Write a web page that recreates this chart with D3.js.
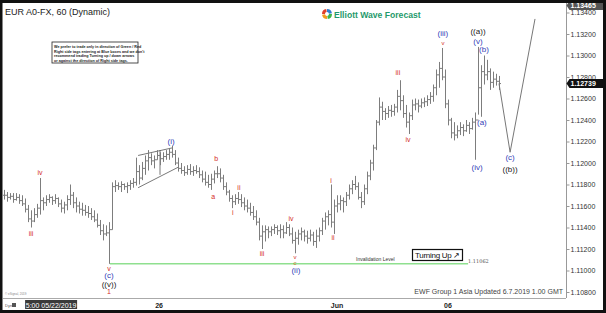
<!DOCTYPE html>
<html>
<head>
<meta charset="utf-8">
<script src="https://cdn.jsdelivr.net/npm/d3@7"></script>
<style>
body { margin: 0; background: #fff; }
svg { display: block; font-family: Arial, "Liberation Sans", sans-serif; }
</style>
</head>
<body>
<div id="chart"></div>
<script>
// 2 hour bars, EURUSD 22 May - 7 Jun 2019
var highs = [1.1175,1.1173,1.1172,1.1172,1.1172,1.1171,1.1170,1.1167,1.1161,1.1156,
 1.1158,1.1162,1.1186,1.1168,1.1170,1.1171,1.1169,1.1171,1.1168,1.1166,
 1.1164,1.1170,1.1180,1.1173,1.1168,1.1164,1.1163,1.1161,1.1160,1.1158,
 1.1156,1.1153,1.1147,1.1143,1.1142,1.1145,1.1182,1.1184,1.1182,1.1183,
 1.1181,1.1182,1.1184,1.1186,1.1205,1.1198,1.1201,1.1207,1.1212,1.1209,
 1.1207,1.1212,1.1210,1.1210,1.1212,1.1214,1.1216,1.1212,1.1205,1.1200,
 1.1197,1.1198,1.1199,1.1197,1.1198,1.1196,1.1193,1.1192,1.1189,1.1190,
 1.1193,1.1197,1.1195,1.1189,1.1182,1.1175,1.1170,1.1171,1.1173,1.1171,
 1.1168,1.1166,1.1163,1.1160,1.1156,1.1149,1.1142,1.1142,1.1141,1.1141,
 1.1143,1.1142,1.1143,1.1142,1.1145,1.1143,1.1140,1.1136,1.1138,1.1140,
 1.1138,1.1137,1.1138,1.1136,1.1138,1.1140,1.1149,1.1154,1.1156,1.1180,
 1.1166,1.1170,1.1170,1.1168,1.1173,1.1180,1.1184,1.1188,1.1182,1.1173,
 1.1180,1.1192,1.1203,1.1217,1.1240,1.1261,1.1257,1.1251,1.1253,1.1254,
 1.1255,1.1268,1.1277,1.1263,1.1254,1.1247,1.1259,1.1260,1.1259,1.1260,
 1.1261,1.1263,1.1266,1.1273,1.1287,1.1294,1.1307,1.1287,1.1259,1.1242,
 1.1238,1.1235,1.1238,1.1236,1.1240,1.1238,1.1242,1.1247,1.1308,1.1291,
 1.1300,1.1296,1.1288,1.1285,1.1283,1.1281];
var lows = [1.1166,1.1164,1.1166,1.1163,1.1165,1.1162,1.1160,1.1154,1.1145,1.1140,
 1.1145,1.1149,1.1152,1.1156,1.1160,1.1163,1.1161,1.1162,1.1159,1.1154,
 1.1153,1.1156,1.1161,1.1158,1.1154,1.1153,1.1151,1.1151,1.1149,1.1147,
 1.1145,1.1140,1.1133,1.1128,1.1132,1.11062,1.1138,1.1173,1.1175,1.1173,
 1.1175,1.1172,1.1175,1.1177,1.1179,1.1180,1.1184,1.1189,1.1193,1.1198,
 1.1195,1.1203,1.1198,1.1201,1.1203,1.1203,1.1205,1.1198,1.1192,1.1190,
 1.1188,1.1189,1.1189,1.1188,1.1190,1.1186,1.1182,1.1179,1.1177,1.1175,
 1.1181,1.1186,1.1182,1.1175,1.1170,1.1164,1.1158,1.1161,1.1162,1.1159,
 1.1156,1.1154,1.1151,1.1147,1.1142,1.1128,1.1120,1.1127,1.1130,1.1132,
 1.1134,1.1133,1.1130,1.1130,1.1134,1.1132,1.1125,1.1116,1.1124,1.1128,
 1.1127,1.1125,1.1127,1.1123,1.1121,1.1127,1.1133,1.1138,1.1142,1.1140,
 1.1134,1.1154,1.1156,1.1154,1.1160,1.1166,1.1171,1.1175,1.1166,1.1158,
 1.1161,1.1171,1.1184,1.1193,1.1212,1.1235,1.1240,1.1240,1.1242,1.1243,
 1.1244,1.1247,1.1249,1.1242,1.1233,1.1227,1.1240,1.1249,1.1247,1.1251,
 1.1252,1.1253,1.1255,1.1257,1.1263,1.1270,1.1277,1.1251,1.1235,1.1223,
 1.1221,1.1223,1.1226,1.1225,1.1229,1.1227,1.1231,1.1203,1.1245,1.1243,
 1.1273,1.1277,1.1268,1.1270,1.1272,1.1268];
var closes = [1.1170,1.1168,1.1169,1.1166,1.1168,1.1165,1.1162,1.1157,1.1148,1.1146,
 1.1152,1.1158,1.1165,1.1163,1.1166,1.1168,1.1165,1.1167,1.1162,1.1158,
 1.1161,1.1166,1.1170,1.1163,1.1160,1.1157,1.1156,1.1154,1.1153,1.1150,
 1.1147,1.1142,1.1137,1.1134,1.1135,1.1138,1.1178,1.1179,1.1178,1.1180,
 1.1178,1.1179,1.1181,1.1182,1.1192,1.1186,1.1195,1.1202,1.1205,1.1202,
 1.1203,1.1207,1.1204,1.1206,1.1208,1.1210,1.1208,1.1200,1.1195,1.1193,
 1.1191,1.1194,1.1192,1.1193,1.1192,1.1189,1.1185,1.1182,1.1180,1.1185,
 1.1190,1.1190,1.1186,1.1178,1.1173,1.1167,1.1164,1.1167,1.1166,1.1163,
 1.1160,1.1158,1.1154,1.1150,1.1145,1.1132,1.1136,1.1138,1.1136,1.1138,
 1.1140,1.1137,1.1138,1.1135,1.1140,1.1134,1.1128,1.1130,1.1134,1.1136,
 1.1132,1.1130,1.1133,1.1127,1.1132,1.1137,1.1146,1.1150,1.1152,1.1145,
 1.1160,1.1162,1.1165,1.1164,1.1170,1.1176,1.1180,1.1178,1.1168,1.1164,
 1.1176,1.1188,1.1200,1.1214,1.1238,1.1252,1.1248,1.1246,1.1249,1.1248,
 1.1252,1.1262,1.1258,1.1246,1.1238,1.1244,1.1254,1.1255,1.1253,1.1256,
 1.1257,1.1259,1.1262,1.1270,1.1282,1.1288,1.1280,1.1255,1.1240,1.1228,
 1.1226,1.1230,1.1233,1.1230,1.1235,1.1232,1.1238,1.1240,1.1270,1.1285,
 1.1282,1.1285,1.1275,1.1278,1.1276,1.12739];

var yTicks = [1.108,1.110,1.112,1.114,1.116,1.118,1.120,1.122,1.124,1.126,1.128,1.130,1.132,1.134];
var chartHigh = 1.13465;
var lastPrice = 1.12739;
var invalidLevel = 1.11062;
var invalidFrom = 35.3, invalidTo = 154.7;

var xTickIdx = [15.7, 51.7, 111, 148];
var xTickLabels = ["5:00 05/22/2019", "26", "Jun", "06"];

// wave labels
var waveText = ["iii","iv","v","(c)","((v))","1","(i)","a","b","i","ii","iii","iv","v","c","(ii)",
  "i","ii","iii","iv","v","(iii)","(iv)","(v)","((a))","(a)","(b)","(c)","((b))"];
var waveIdx = [9,12,35,35,35,35,55.7,69.7,70.7,76.3,78.3,86,95.7,97,97,97.3,
  109,109.7,131.3,134.7,146.3,146.3,157.7,158,158,159.3,160,168.7,168.7];
var wavePrice = [1.1134,1.1191,1.1101,1.1095,1.1087,1.1080,1.1220,1.1168,1.1204,1.1153,1.1177,1.1115,1.1148,1.1112,1.11065,1.1100,
  1.1183,1.1130,1.1284,1.1221,1.1311,1.1320,1.1195,1.1313,1.1322,1.1237,1.1305,1.1205,1.1194];
var waveDegree = ["sub","sub","sub","minute","minor","sub","minute","sub","sub","sub","sub","sub","sub","sub","alt","minute",
  "sub","sub","sub","sub","sub","minute","minute","minute","minor","minute","minute","minute","minor"];

// projected path and wedge
var projIdx = [165, 168.7, 177];
var projPrice = [1.12739, 1.1210, 1.1334];
var wedgeUpper = [[44.7, 1.1207], [56, 1.1214]];
var wedgeLower = [[44.7, 1.1177], [58, 1.1196]];
var wedgeMark = [[52, 1.1212], [52, 1.1189]];

var width = 606, height = 313;
var degreeColor = { sub: "#d42a26", minute: "#3342b8", minor: "#222", alt: "#c27a1c" };

var svg = d3.select("#chart")
    .append("svg")
    .attr("width", width)
    .attr("height", height);

svg.append("rect").attr("width", width).attr("height", height).attr("fill", "#fff");

var x = d3.scaleLinear().domain([0, 165]).range([4, 499]);
var y = d3.scaleLinear().domain([1.108, 1.132]).range([292, 34]);

// title, logo, note
svg.append("text").attr("x", 5).attr("y", 15).attr("font-size", 9).attr("fill", "#222")
    .text("EUR A0-FX, 60 (Dynamic)");

var logo = svg.append("g").attr("transform", "translate(327,14)");
var arc = d3.arc().innerRadius(2).outerRadius(5);
["#2e7fd0", "#3cb44b", "#f29a1f", "#e0402c"].forEach(function (c, i) {
    logo.append("path")
        .attr("d", arc({ startAngle: i * Math.PI / 2, endAngle: (i + 1) * Math.PI / 2 - 0.15 }))
        .attr("fill", c);
});
svg.append("text").attr("x", 334).attr("y", 17.5).attr("font-size", 8.6).attr("font-weight", "bold")
    .attr("fill", "#1f9a6b").text("Elliott Wave Forecast");

svg.append("rect").attr("x", 52).attr("y", 42).attr("width", 86).attr("height", 21)
    .attr("fill", "#fff").attr("stroke", "#222").attr("stroke-width", 0.8);
var note = ["We prefer to trade only in direction of Green / Red",
    "Right side tags entering at Blue boxes and we don't",
    "recommend trading Turning up / down arrows",
    "or against the direction of Right side tags."];
svg.append("g").selectAll("text").data(note).enter().append("text")
    .attr("x", 54).attr("y", function (d, i) { return 48 + i * 4.6; })
    .attr("font-size", 3.7).attr("font-weight", "bold").attr("fill", "#222")
    .text(function (d) { return d; });

// wedge
var line = d3.line().x(function (d) { return x(d[0]); }).y(function (d) { return y(d[1]); });
[wedgeUpper, wedgeLower, wedgeMark].forEach(function (w) {
    svg.append("path").attr("d", line(w)).attr("fill", "none").attr("stroke", "#555").attr("stroke-width", 0.8);
});

// invalidation level
svg.append("line")
    .attr("x1", x(invalidFrom)).attr("x2", x(invalidTo))
    .attr("y1", y(invalidLevel)).attr("y2", y(invalidLevel))
    .attr("stroke", "#8fe08f").attr("stroke-width", 1.5);
svg.append("text").attr("x", 356).attr("y", y(invalidLevel) - 3).attr("font-size", 5).attr("fill", "#333")
    .text("Invalidation Level");
svg.append("text").attr("x", x(invalidTo)).attr("y", y(invalidLevel) - 1).attr("font-size", 5)
    .attr("font-family", "DejaVu Serif, serif").attr("fill", "#555").text(d3.format(".5f")(invalidLevel));

// OHLC bars
var bars = svg.append("g").attr("stroke", "#7d7d7d").attr("stroke-width", 1);
highs.forEach(function (h, i) {
    var open = i > 0 ? closes[i - 1] : closes[i];
    var xi = Math.round(x(i)) + 0.5;
    bars.append("line").attr("x1", xi).attr("x2", xi).attr("y1", y(h)).attr("y2", y(lows[i]));
    bars.append("line").attr("x1", xi - 1.5).attr("x2", xi).attr("y1", y(open)).attr("y2", y(open));
    bars.append("line").attr("x1", xi).attr("x2", xi + 1.5).attr("y1", y(closes[i])).attr("y2", y(closes[i]));
});

// projection
svg.append("path")
    .attr("d", d3.line().x(function (d, i) { return x(projIdx[i]); }).y(function (d) { return y(d); })(projPrice))
    .attr("fill", "none").attr("stroke", "#777").attr("stroke-width", 1);

// wave labels
svg.append("g").selectAll("text").data(waveText).enter().append("text")
    .attr("x", function (d, i) { return x(waveIdx[i]); })
    .attr("y", function (d, i) { return y(wavePrice[i]); })
    .attr("text-anchor", "middle").attr("dominant-baseline", "middle")
    .attr("font-size", function (d, i) {
        if (i == 13 || i == 14 || i == 20) return 6;
        return waveDegree[i] == "sub" || waveDegree[i] == "alt" ? 7 : 8;
    })
    .attr("fill", function (d, i) { return degreeColor[waveDegree[i]]; })
    .text(function (d) { return d; });

// turning up box
svg.append("rect").attr("x", 412.5).attr("y", 249.5).attr("width", 50).attr("height", 11)
    .attr("fill", "#fff").attr("stroke", "#111").attr("stroke-width", 1.2);
svg.append("text").attr("x", 437.5).attr("y", 258).attr("text-anchor", "middle").attr("font-size", 8)
    .attr("letter-spacing", -0.3).attr("fill", "#111").text("Turning Up \u2197");

// right axis
svg.append("line").attr("x1", 566.5).attr("x2", 566.5).attr("y1", 3).attr("y2", 298).attr("stroke", "#999");
var yAxis = d3.axisRight(y).tickValues(yTicks).tickFormat(d3.format(".5f")).tickSize(3).tickSizeOuter(0);
var ya = svg.append("g").attr("transform", "translate(566.5,0)").call(yAxis);
ya.select(".domain").remove();
ya.selectAll("line").attr("stroke", "#999");
ya.selectAll("text").attr("font-size", 7).attr("fill", "#333").attr("x", 4)
    .attr("font-family", "Arial, sans-serif");

function priceBox(v, fill) {
    var g = svg.append("g").attr("transform", "translate(566.5," + y(v) + ")");
    g.append("path").attr("d", "M0,0 L3,-4.5 L39,-4.5 L39,4.5 L3,4.5 Z").attr("fill", fill);
    g.append("text").attr("x", 4).attr("y", 2.6).attr("font-size", 7).attr("font-weight", "bold")
        .attr("fill", "#fff").text(d3.format(".5f")(v));
}
priceBox(chartHigh, "#555");
priceBox(lastPrice, "#111");

// bottom axis
svg.append("line").attr("x1", 3).attr("x2", 566).attr("y1", 298.5).attr("y2", 298.5).attr("stroke", "#aaa");
xTickLabels.forEach(function (t, i) {
    if (i == 0) {
        svg.append("rect").attr("x", x(xTickIdx[i]) - 26).attr("y", 300).attr("width", 52).attr("height", 9).attr("fill", "#3a3a3a");
        svg.append("text").attr("x", x(xTickIdx[i])).attr("y", 307.5).attr("text-anchor", "middle")
            .attr("font-size", 7).attr("fill", "#fff").text(t);
    } else {
        svg.append("text").attr("x", x(xTickIdx[i])).attr("y", 307.5).attr("text-anchor", "middle")
            .attr("font-size", 7).attr("font-weight", "bold").attr("fill", "#222").text(t);
    }
});
svg.append("text").attr("x", 5).attr("y", 307).attr("font-size", 4).attr("fill", "#555").text("Dyn");
svg.append("rect").attr("x", 12).attr("y", 303).attr("width", 4).attr("height", 4).attr("fill", "#555");
svg.append("text").attr("x", 5).attr("y", 295).attr("font-size", 3).attr("fill", "#888").text("\u00a9 eSignal, 2019");

svg.append("text").attr("x", 563).attr("y", 294).attr("text-anchor", "end").attr("font-size", 7)
    .attr("fill", "#444").text("EWF Group 1 Asia Updated 6.7.2019 1.00 GMT");

// frame
svg.append("rect").attr("x", 1).attr("y", 1.5).attr("width", width - 2.5).attr("height", height - 3)
    .attr("fill", "none").attr("stroke", "#111").attr("stroke-width", 3);
</script>
</body>
</html>
